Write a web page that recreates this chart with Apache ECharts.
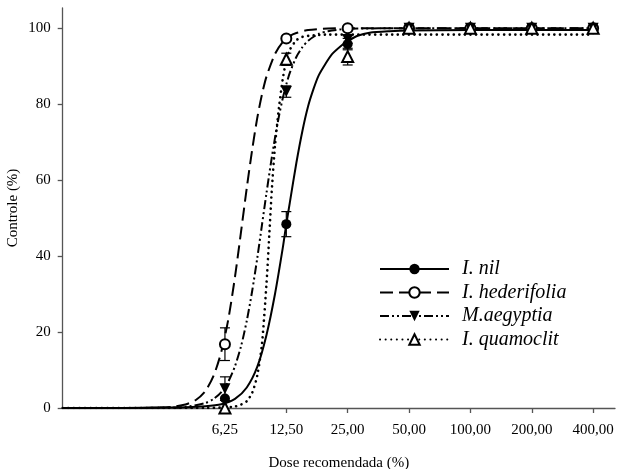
<!DOCTYPE html>
<html>
<head>
<meta charset="utf-8">
<script src="https://cdn.jsdelivr.net/npm/echarts@6/dist/echarts.min.js"></script>
<style>html,body{margin:0;padding:0;background:#fff}#c{width:619px;height:469px}</style>
</head>
<body>
<div id="c"></div>
<script>
// ---- data ----
const doseTicks = [6.25, 12.5, 25, 50, 100, 200, 400];
const tickLabels = ['6,25', '12,50', '25,00', '50,00', '100,00', '200,00', '400,00'];
const yTicks = [0, 20, 40, 60, 80, 100];
const seriesNames = ['I. nil', 'I. hederifolia', 'M.aegyptia', 'I. quamoclit'];

// observed means (%) at doseTicks
const nilObs = [2.5, 48.4, 95.8, 100, 100, 100, 100];
const hedObs = [16.8, 97.3, 100, 100, 100, 100, 100];
const aegObs = [5.1, 83.3, 97, 100, 100, 100, 100];
const quaObs = [0, 91.8, 92.5, 100, 100, 100, 100];
// error (+/-)
const nilErr = [0, 3.3, 1.5, 0, 0, 0, 0];
const hedErr = [4.3, 0.6, 0.5, 0, 0, 0, 0];
const aegErr = [3.1, 1.5, 1, 0, 0, 0, 0];
const quaErr = [0, 1.6, 2.2, 0, 0, 0, 0];

// fitted curves
const nilCurveDose = [1, 2, 3, 4, 5, 6, 7, 8, 9, 10, 11, 12, 12.5, 13, 14, 15, 16, 17, 18, 19.4, 21, 23.4, 25, 28, 32, 40, 50, 100, 200, 400];
const nilCurveVal = [0, 0, 0.1, 0.2, 0.45, 1.0, 2.4, 5.4, 10.8, 19.3, 30, 42, 48.4, 54, 64.5, 73, 79.5, 84, 87.5, 90.5, 93.2, 95.5, 96.6, 98, 98.8, 99.2, 99.4, 99.5, 99.5, 99.5];
const hedCurveDose = [1, 2, 3, 3.5, 4, 4.5, 5, 5.5, 6, 6.5, 7, 7.5, 8, 8.5, 9, 9.5, 10, 11, 12, 13, 14, 16, 20, 25, 50, 100, 200, 400];
const hedCurveVal = [0, 0, 0.1, 0.35, 0.9, 2.1, 4.4, 8.5, 14.8, 23.5, 34.5, 46.5, 58, 68, 76.3, 82.6, 87.3, 93.2, 96.3, 97.9, 98.7, 99.5, 99.9, 100, 100, 100, 100, 100];
const aegCurveDose = [1, 3, 4, 5, 5.5, 6, 6.5, 7, 7.5, 8, 8.5, 9, 9.5, 10, 10.5, 11, 11.5, 12, 12.5, 13, 14, 15, 16, 18, 20, 25, 50, 100, 200, 400];
const aegCurveVal = [0, 0.05, 0.3, 1.3, 2.4, 4.2, 7.0, 11, 16.3, 23, 30.8, 39.4, 48.3, 56.7, 64.4, 71.1, 76.8, 81.5, 85.2, 88.2, 92.4, 95, 96.7, 98.5, 99.2, 99.8, 100, 100, 100, 100];
const quaCurveDose = [1, 5, 6.25, 7, 7.5, 8, 8.5, 9, 9.5, 10, 10.3, 10.6, 11, 11.5, 12, 12.5, 13, 14, 15, 17, 20, 25, 50, 100, 200, 400];
const quaCurveVal = [0, 0, 0.15, 0.4, 0.9, 1.8, 4, 8.5, 17, 33, 45, 57, 69, 79, 86.5, 91.5, 94.3, 96.8, 97.7, 98.1, 98.3, 98.3, 98.3, 98.3, 98.3, 98.3];

// ---- build ----
const L2 = d => Math.log2(d);
const FONT = 'Liberation Serif';
const curves = [
  [nilCurveDose, nilCurveVal], [hedCurveDose, hedCurveVal],
  [aegCurveDose, aegCurveVal], [quaCurveDose, quaCurveVal]
];
const obs = [nilObs, hedObs, aegObs, quaObs];
const errs = [nilErr, hedErr, aegErr, quaErr];
const symbols = ['circle', 'emptyCircle', 'triangle', 'emptyTriangle'];
const rotates = [0, 0, 180, 0];
const lineTypes = ['solid', [13, 6], [9, 3, 2, 3, 2, 3], [0.1, 5.5]];
const lineWidths = [2, 2, 2, 2.6];

const series = [];
seriesNames.forEach((n, i) => {
  series.push({
    name: n, type: 'line',
    data: curves[i][0].map((d, k) => [L2(d), curves[i][1][k]]),
    symbol: symbols[i], symbolRotate: rotates[i], showSymbol: false,
    smooth: 0.25,
    lineStyle: { color: '#000', width: lineWidths[i], type: lineTypes[i], cap: i === 3 ? 'round' : 'butt' },
    itemStyle: { color: '#000' },
    z: 2
  });
});
seriesNames.forEach((n, i) => {
  series.push({
    name: n, type: 'custom',
    data: doseTicks.map((d, k) => [L2(d), obs[i][k] - errs[i][k], obs[i][k] + errs[i][k]]).filter((r, k) => errs[i][k] > 0),
    renderItem: (params, api) => {
      const lo = api.coord([api.value(0), api.value(1)]);
      const hi = api.coord([api.value(0), api.value(2)]);
      const w = 5;
      const st = { stroke: '#000', lineWidth: 1.2 };
      return { type: 'group', children: [
        { type: 'line', shape: { x1: lo[0], y1: lo[1], x2: hi[0], y2: hi[1] }, style: st },
        { type: 'line', shape: { x1: lo[0] - w, y1: lo[1], x2: lo[0] + w, y2: lo[1] }, style: st },
        { type: 'line', shape: { x1: hi[0] - w, y1: hi[1], x2: hi[0] + w, y2: hi[1] }, style: st }
      ]};
    },
    z: 3
  });
});
seriesNames.forEach((n, i) => {
  series.push({
    name: n, type: 'scatter',
    data: doseTicks.map((d, k) => [L2(d), obs[i][k]]),
    symbol: symbols[i], symbolRotate: rotates[i], symbolSize: i >= 2 ? 11 : 10,
    itemStyle: { color: '#000', borderWidth: 1.2, opacity: 1 },
    z: 4
  });
});

const chart = echarts.init(document.getElementById('c'), null, { renderer: 'canvas' });
chart.setOption({
  animation: false,
  backgroundColor: '#fff',
  grid: { left: 62.7, right: 4, top: 8, bottom: 61, containLabel: false, outerBoundsMode: 'none' },
  xAxis: {
    type: 'value', min: 0, max: 9,
    name: 'Dose recomendada (%)', nameLocation: 'middle', nameGap: 48, nameMoveOverlap: false,
    nameTextStyle: { fontFamily: FONT, fontSize: 15, color: '#000' },
    axisLine: { lineStyle: { color: '#555', width: 1.3 } },
    axisTick: { customValues: doseTicks.map(L2), length: 5, lineStyle: { color: '#555', width: 1.3 } },
    axisLabel: {
      customValues: doseTicks.map(L2), margin: 15,
      fontFamily: FONT, fontSize: 15, color: '#000',
      formatter: v => { let b = 0; doseTicks.forEach((d, k) => { if (Math.abs(L2(d) - v) < Math.abs(L2(doseTicks[b]) - v)) b = k; }); return tickLabels[b]; }
    },
    splitLine: { show: false }
  },
  yAxis: {
    type: 'value', min: 0, max: 105.3,
    name: 'Controle (%)', nameLocation: 'middle', nameGap: 42, nameMoveOverlap: false,
    nameTextStyle: { fontFamily: FONT, fontSize: 15, color: '#000' },
    axisLine: { show: true, lineStyle: { color: '#555', width: 1.3 } },
    axisTick: { show: true, customValues: yTicks, length: 5, lineStyle: { color: '#555', width: 1.3 } },
    axisLabel: { customValues: yTicks, margin: 12, fontFamily: FONT, fontSize: 15, color: '#000' },
    splitLine: { show: false }
  },
  legend: {
    data: seriesNames, orient: 'vertical', left: 374, top: 254,
    itemWidth: 69, itemHeight: 13, itemGap: 3.5,
    selectedMode: false,
    textStyle: { fontFamily: FONT, fontSize: 20, fontStyle: 'italic', color: '#000', padding: [0, 0, 0, 8] }
  },
  series: series
});
</script>
</body>
</html>
